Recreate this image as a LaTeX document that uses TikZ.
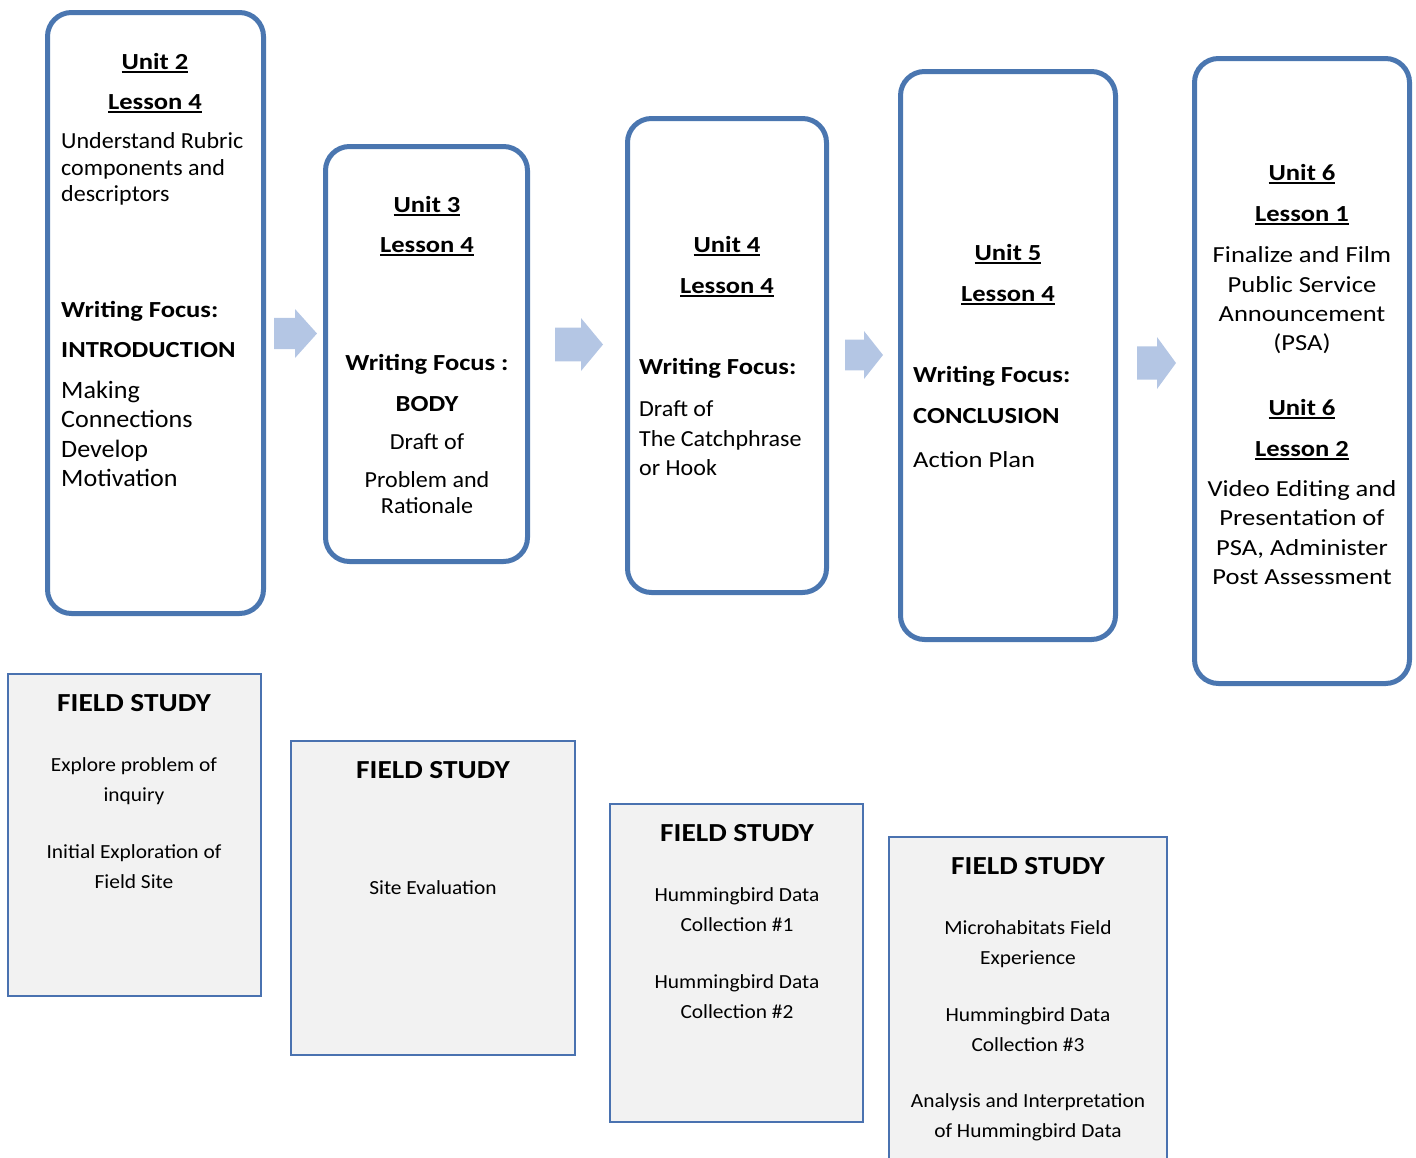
\documentclass[tikz,border=0pt]{standalone}
\usepackage{fontspec}
\setmainfont{Carlito}
\newfontfamily\hdfont[FakeStretch=1.155]{Carlito}
\newfontfamily\bodyfont[FakeStretch=1.045]{Carlito}
\newfontfamily\widefont[FakeStretch=1.155]{Carlito}
\newfontfamily\fshdfont[FakeStretch=1.13]{Carlito}
\newfontfamily\fsfont[FakeStretch=1.07]{Carlito}
\definecolor{boxblue}{HTML}{4A76B0}
\definecolor{arrowblue}{HTML}{B4C6E4}
\definecolor{fsgray}{HTML}{F2F2F2}
\definecolor{fsborder}{HTML}{4A72B0}
\newcommand\ulbox[1]{\setbox0\hbox{#1}\rlap{\rule[-3.5pt]{\wd0}{1.8pt}}\box0}
\newcommand\blockarrow[5]{% x1, xhead, x2, ycenter, height
  \fill[arrowblue] (#1,#4-0.32*#5) -- (#2,#4-0.32*#5) -- (#2,#4-0.5*#5) -- (#3,#4)
    -- (#2,#4+0.5*#5) -- (#2,#4+0.32*#5) -- (#1,#4+0.32*#5) -- cycle;}
\begin{document}
\begin{tikzpicture}[x=1pt,y=-1pt,
  lessonbox/.style={draw=boxblue, line width=5pt, rounded corners=24pt, inner sep=0},
  fsbox/.style={draw=fsborder, fill=fsgray, line width=1.4pt, inner sep=0},
  hd/.style={inner sep=0, anchor=base, font=\hdfont\fontsize{23}{27}\selectfont\bfseries},
  hdl/.style={hd, anchor=base west},
  tx/.style={inner sep=0, anchor=base, font=\bodyfont\fontsize{23}{27}\selectfont},
  txl/.style={tx, anchor=base west},
  wtx/.style={inner sep=0, anchor=base, font=\widefont\fontsize{23}{27}\selectfont},
  wtxl/.style={wtx, anchor=base west},
  bigl/.style={inner sep=0, anchor=base west, font=\bodyfont\fontsize{25}{29}\selectfont},
  fshd/.style={inner sep=0, anchor=base, font=\fshdfont\fontsize{26}{30}\selectfont\bfseries},
  fstx/.style={inner sep=0, anchor=base, font=\fsfont\fontsize{20}{24}\selectfont}]
\useasboundingbox (0,0) rectangle (1416,1157);
% lesson boxes
\node[lessonbox, minimum width=216pt, minimum height=601pt] (b1) at (155.5,313) {};
\node[lessonbox, minimum width=202pt, minimum height=415pt] (b2) at (426.5,354) {};
\node[lessonbox, minimum width=199pt, minimum height=474pt] (b3) at (727,355.5) {};
\node[lessonbox, minimum width=215pt, minimum height=568pt] (b4) at (1008,355.5) {};
\node[lessonbox, minimum width=215pt, minimum height=625pt] (b5) at (1302,371) {};
% block arrows
\blockarrow{274}{295}{317}{333.5}{49}
\blockarrow{555}{581}{603}{344.5}{53}
\blockarrow{845}{864}{883}{355}{48}
\blockarrow{1137}{1157}{1176}{363}{52}
% field study boxes
\node[fsbox, minimum width=253pt, minimum height=322pt] (f1) at (134.5,835) {};
\node[fsbox, minimum width=284pt, minimum height=314pt] (f2) at (433,898) {};
\node[fsbox, minimum width=253pt, minimum height=318pt] (f3) at (736.5,963) {};
\node[fsbox, minimum width=278pt, minimum height=340pt] (f4) at (1028,1007) {};
% box 1
\node[hd] (t1a) at (155,69) {\ulbox{Unit 2}};
\node[hd] (t1b) at (155,109) {\ulbox{Lesson 4}};
\node[txl] (t1c) at (61,148) {Understand Rubric};
\node[txl] (t1d) at (61,175) {components and};
\node[txl] (t1e) at (61,201) {descriptors};
\node[hdl] (t1f) at (61,317) {Writing Focus:};
\node[hdl] (t1g) at (61,357) {INTRODUCTION};
\node[bigl] (t1h) at (61,398) {Making};
\node[bigl] (t1i) at (61,427) {Connections};
\node[bigl] (t1j) at (61,457) {Develop};
\node[bigl] (t1k) at (61,486) {Motivation};
% box 2
\node[hd] (t2a) at (427,212) {\ulbox{Unit 3}};
\node[hd] (t2b) at (427,252) {\ulbox{Lesson 4}};
\node[hd] (t2c) at (427,370) {Writing Focus :};
\node[hd] (t2d) at (427,411) {BODY};
\node[tx] (t2e) at (427,449) {Draft of};
\node[tx] (t2f) at (427,487) {Problem and};
\node[tx] (t2g) at (427,513) {Rationale};
% box 3
\node[hd] (t3a) at (727,252) {\ulbox{Unit 4}};
\node[hd] (t3b) at (727,293) {\ulbox{Lesson 4}};
\node[hdl] (t3c) at (639,374) {Writing Focus:};
\node[txl] (t3d) at (639,416) {Draft of};
\node[txl] (t3e) at (639,446) {The Catchphrase};
\node[txl] (t3f) at (639,475) {or Hook};
% box 4
\node[hd] (t4a) at (1008,260) {\ulbox{Unit 5}};
\node[hd] (t4b) at (1008,301) {\ulbox{Lesson 4}};
\node[hdl] (t4c) at (913,382) {Writing Focus:};
\node[hdl] (t4d) at (913,423) {CONCLUSION};
\node[wtxl] (t4e) at (913,467) {Action Plan};
% box 5
\node[hd] (t5a) at (1302,180) {\ulbox{Unit 6}};
\node[hd] (t5b) at (1302,221) {\ulbox{Lesson 1}};
\node[wtx] (t5c) at (1302,262) {Finalize and Film};
\node[wtx] (t5d) at (1302,292) {Public Service};
\node[wtx] (t5e) at (1302,321) {Announcement};
\node[wtx] (t5f) at (1302,350) {(PSA)};
\node[hd] (t5g) at (1302,415) {\ulbox{Unit 6}};
\node[hd] (t5h) at (1302,456) {\ulbox{Lesson 2}};
\node[wtx] (t5i) at (1302,496) {Video Editing and};
\node[wtx] (t5j) at (1302,525) {Presentation of};
\node[wtx] (t5k) at (1302,555) {PSA, Administer};
\node[wtx] (t5l) at (1302,584) {Post Assessment};
% field study texts
\node[fshd] (s1a) at (134,711) {FIELD STUDY};
\node[fstx] (s1b) at (134,771.5) {Explore problem of};
\node[fstx] (s1c) at (134,801.5) {inquiry};
\node[fstx] (s1d) at (134,858.5) {Initial Exploration of};
\node[fstx] (s1e) at (134,888.5) {Field Site};
\node[fshd] (s2a) at (433,778) {FIELD STUDY};
\node[fstx] (s2b) at (433,894.5) {Site Evaluation};
\node[fshd] (s3a) at (737,841) {FIELD STUDY};
\node[fstx] (s3b) at (737,901.5) {Hummingbird Data};
\node[fstx] (s3c) at (737,931.5) {Collection \#1};
\node[fstx] (s3d) at (737,988.5) {Hummingbird Data};
\node[fstx] (s3e) at (737,1018.5) {Collection \#2};
\node[fshd] (s4a) at (1028,874) {FIELD STUDY};
\node[fstx] (s4b) at (1028,934.5) {Microhabitats Field};
\node[fstx] (s4c) at (1028,964.5) {Experience};
\node[fstx] (s4d) at (1028,1021.5) {Hummingbird Data};
\node[fstx] (s4e) at (1028,1051.5) {Collection \#3};
\node[fstx] (s4f) at (1028,1107.5) {Analysis and Interpretation};
\node[fstx] (s4g) at (1028,1137.5) {of Hummingbird Data};
\end{tikzpicture}
\end{document}
